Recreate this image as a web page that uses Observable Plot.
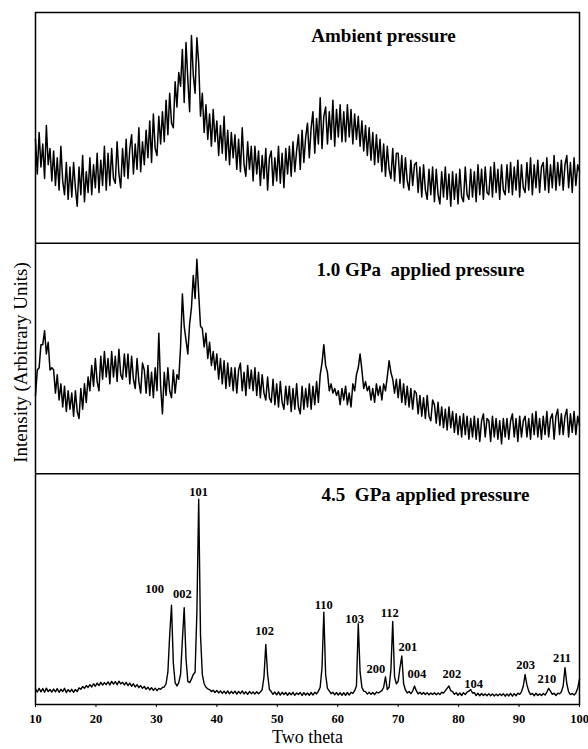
<!DOCTYPE html>
<html>
<head>
<meta charset="utf-8">
<script src="https://cdn.jsdelivr.net/npm/d3@7"></script>
<script src="https://cdn.jsdelivr.net/npm/@observablehq/plot@0.6"></script>
<style>
  html, body { margin: 0; padding: 0; background: white; }
</style>
</head>
<body>
<div id="chart"></div>
<script>
// Sampling grid of the diffractograms (two theta, degrees)
const thetaStart = 10;
const thetaStep = 0.3;

// Panel 1: ambient pressure (arbitrary units, 0-100 within panel)
const ambient = [
  45, 30, 48, 33, 43, 28, 51, 34, 41, 27,
  40, 25, 37, 23, 42, 27, 21, 35, 19, 33,
  20, 35, 24, 16, 33, 21, 38, 18, 31, 22,
  37, 21, 34, 24, 39, 22, 36, 25, 42, 23,
  39, 25, 41, 28, 26, 44, 30, 24, 41, 29,
  45, 28, 41, 47, 30, 43, 32, 50, 31, 44,
  34, 49, 37, 53, 35, 56, 41, 38, 55, 43,
  57, 44, 62, 47, 65, 52, 50, 70, 59, 74,
  68, 84, 61, 87, 71, 57, 90, 73, 65, 89,
  78, 55, 65, 48, 60, 45, 56, 42, 58, 44,
  53, 38, 51, 39, 55, 36, 49, 34, 48, 37,
  47, 32, 45, 31, 50, 34, 29, 44, 32, 42,
  27, 42, 30, 40, 25, 38, 28, 41, 23, 37,
  40, 25, 37, 27, 42, 26, 39, 24, 41, 30,
  42, 29, 44, 31, 40, 47, 32, 49, 35, 46,
  52, 37, 50, 57, 39, 54, 43, 63, 41, 55,
  59, 43, 57, 45, 62, 42, 58, 46, 60, 44,
  57, 44, 60, 46, 58, 43, 56, 45, 55, 42,
  53, 40, 51, 38, 50, 36, 48, 34, 47, 35,
  45, 31, 43, 29, 42, 32, 28, 41, 27, 39,
  39, 26, 38, 24, 37, 27, 23, 36, 25, 34,
  35, 22, 33, 20, 34, 23, 19, 32, 21, 33,
  18, 32, 21, 17, 31, 20, 33, 19, 30, 16,
  31, 19, 30, 17, 32, 20, 18, 33, 21, 19,
  32, 20, 31, 18, 34, 21, 32, 19, 33, 22,
  21, 33, 20, 35, 22, 32, 19, 34, 23, 21,
  34, 22, 35, 21, 33, 23, 36, 20, 34, 24,
  22, 35, 23, 37, 21, 34, 24, 36, 22, 33,
  35, 23, 37, 22, 34, 24, 38, 23, 35, 25,
  36, 23, 34, 38, 24, 35, 22, 37, 25, 34,
  31
];

// Panel 2: 1.0 GPa applied pressure
const gpa10 = [
  34, 45, 46, 56, 56, 62, 52, 57, 45, 46,
  45, 35, 43, 32, 39, 29, 38, 27, 36, 28,
  35, 25, 36, 27, 24, 37, 28, 39, 31, 42,
  36, 47, 38, 50, 40, 36, 51, 41, 53, 42,
  50, 39, 53, 42, 51, 40, 54, 43, 41, 52,
  42, 52, 39, 51, 41, 37, 50, 40, 35, 48,
  45, 35, 47, 34, 44, 33, 46, 36, 61, 38,
  26, 44, 34, 46, 36, 33, 45, 35, 43, 41,
  55, 78, 64, 58, 52, 65, 72, 86, 76, 93,
  78, 64, 63, 55, 61, 50, 57, 47, 53, 45,
  52, 41, 50, 39, 49, 37, 48, 38, 46, 36,
  46, 35, 45, 48, 36, 44, 34, 47, 37, 45,
  36, 46, 34, 44, 33, 43, 35, 32, 42, 33,
  31, 41, 30, 39, 29, 40, 31, 28, 38, 30,
  38, 27, 37, 28, 39, 29, 26, 38, 28, 37,
  29, 39, 28, 38, 30, 40, 31, 43, 48, 56,
  47, 44, 36, 39, 35, 37, 34, 36, 30, 37,
  32, 38, 30, 35, 29, 39, 36, 43, 46, 52,
  45, 37, 40, 36, 38, 32, 37, 31, 39, 34,
  38, 32, 39, 36, 42, 49, 44, 41, 35, 41,
  33, 41, 31, 39, 30, 38, 29, 37, 28, 36,
  35, 26, 34, 25, 33, 24, 34, 25, 23, 32,
  30, 22, 31, 21, 29, 20, 28, 19, 29, 20,
  27, 18, 26, 17, 25, 16, 26, 17, 25, 15,
  24, 16, 25, 15, 24, 14, 23, 26, 16, 24,
  23, 14, 25, 16, 24, 15, 23, 13, 24, 16,
  24, 15, 23, 26, 16, 24, 14, 25, 16, 23,
  25, 16, 24, 15, 26, 17, 27, 16, 24, 15,
  25, 17, 27, 16, 24, 26, 15, 25, 28, 17,
  26, 17, 25, 28, 16, 26, 18, 27, 17, 25,
  21
];

// Panel 3: 4.5 GPa applied pressure
const gpa45 = [
  6.8, 5.4, 7.0, 5.5, 6.9, 5.3, 7.1, 5.6, 6.5, 5.4,
  6.7, 5.5, 6.9, 5.3, 6.6, 5.6, 7.0, 5.2, 6.4, 5.5,
  6.6, 5.3, 6.5, 5.6, 7.2, 6.6, 7.8, 7.0, 8.2, 7.4,
  8.6, 7.6, 9.0, 7.9, 9.3, 8.2, 9.6, 8.4, 9.5, 8.6,
  9.8, 8.5, 10.0, 8.8, 9.9, 8.6, 10.1, 8.9, 9.7, 8.5,
  9.6, 8.2, 9.3, 7.9, 9.0, 7.6, 8.6, 7.3, 8.2, 7.0,
  7.8, 6.6, 7.5, 6.3, 7.3, 6.1, 7.1, 6.0, 7.0, 6.6,
  7.4, 7.6, 9.0, 14, 30, 43, 18, 9.5, 8.0, 9.5,
  13, 28, 42, 20, 10, 9.5, 11, 13, 14, 40,
  89, 30, 13, 9.0, 7.5, 6.8, 6.4, 5.6, 6.2, 5.2,
  6.1, 5.0, 5.9, 4.8, 5.8, 4.7, 5.9, 4.6, 5.7, 4.8,
  5.8, 4.5, 5.7, 4.7, 5.9, 4.6, 5.5, 4.4, 5.6, 4.7,
  5.4, 4.6, 5.5, 4.7, 5.4, 6.5, 12, 26, 13, 6.5,
  5.6, 4.4, 5.4, 4.2, 5.5, 4.1, 5.3, 4.3, 5.2, 4.0,
  5.1, 4.2, 5.3, 4.0, 5.0, 4.3, 5.2, 3.9, 5.1, 4.1,
  5.0, 4.0, 5.2, 4.1, 5.3, 4.6, 5.8, 7.5, 16, 40,
  13, 7.0, 5.9, 4.7, 5.3, 4.2, 5.2, 4.1, 5.1, 4.0,
  5.1, 4.0, 5.2, 4.1, 5.3, 4.8, 6.0, 8.0, 35, 14,
  7.5, 5.8, 5.6, 4.5, 5.3, 4.4, 5.2, 4.3, 5.4, 5.0,
  5.5, 6.0, 7.5, 12, 6.5, 7.5, 15, 36, 12, 9.0,
  10, 16, 21, 9.0, 6.3, 5.0, 5.6, 4.7, 5.8, 8.0,
  6.0, 4.6, 5.3, 4.4, 5.2, 4.3, 5.1, 4.2, 5.0, 4.3,
  5.1, 4.2, 5.0, 4.3, 5.3, 4.9, 6.0, 7.0, 8.0, 6.0,
  5.6, 4.4, 5.1, 4.0, 5.0, 3.9, 5.1, 4.3, 5.4, 5.8,
  6.5, 5.0, 5.1, 3.9, 4.9, 3.8, 4.8, 3.9, 4.6, 3.8,
  4.7, 3.8, 4.6, 3.7, 4.5, 3.8, 4.6, 3.9, 4.7, 3.6,
  4.6, 3.7, 4.8, 3.6, 4.7, 3.8, 4.9, 4.4, 5.5, 8.0,
  13, 8.5, 5.8, 4.3, 4.8, 3.8, 4.9, 3.9, 4.6, 3.9,
  4.8, 4.1, 5.4, 7.0, 5.8, 4.4, 4.9, 3.9, 4.9, 4.6,
  5.5, 8.0, 16, 9.0, 5.5, 4.3, 4.8, 4.1, 5.0, 7.0,
  11
];

// Reflection (hkl) labels in the 4.5 GPa panel
const hkl      = ["100", "002", "101", "102", "110", "103", "200", "112", "201", "004", "202", "104", "203", "210", "211"];
const hklTheta = [29.7, 34.3, 37.0, 47.9, 57.7, 62.8, 66.3, 68.6, 71.6, 73.1, 78.9, 82.5, 91.1, 94.6, 97.1];
const hklLevel = [50, 48, 92, 32, 43, 37, 15.6, 39.5, 25, 13.4, 13.4, 9, 17, 11, 20];

// Axis ticks and texts
const xTicks = [10, 20, 30, 40, 50, 60, 70, 80, 90, 100];
const panelTitles = ["Ambient pressure", "1.0 GPa  applied pressure", "4.5  GPa applied pressure"];
const yLabel = "Intensity (Arbitrary Units)";
const xLabel = "Two theta";

// Build the stacked table (each panel occupies 100 units of the y scale)
const series = [ambient, gpa10, gpa45];
const rows = [];
series.forEach((vals, k) => {
  const offset = 100 * (2 - k);
  vals.forEach((v, i) => rows.push({panel: k, theta: thetaStart + i * thetaStep, y: v + offset}));
});
const labels = hkl.map((h, i) => ({hkl: h, theta: hklTheta[i], y: hklLevel[i]}));

const serif = "'Liberation Serif', 'Times New Roman', serif";

const chart = Plot.plot({
  width: 588,
  height: 749,
  marginLeft: 35,
  marginRight: 9,
  marginTop: 12,
  marginBottom: 45,
  style: {fontFamily: serif, color: "black", background: "white", overflow: "visible"},
  x: {domain: [10, 100]},
  y: {domain: [0, 300], axis: null},
  marks: [
    Plot.line(rows.filter(d => d.panel < 2), {x: "theta", y: "y", z: "panel", stroke: "black", strokeWidth: 1.5}),
    Plot.line(rows.filter(d => d.panel === 2), {x: "theta", y: "y", stroke: "black", strokeWidth: 1.4}),
    Plot.frame({stroke: "black", strokeWidth: 1.5}),
    Plot.ruleY([100, 200], {stroke: "black", strokeWidth: 1.5}),
    Plot.axisX({ticks: xTicks, tickFormat: d => String(d), tickSize: 3, tickPadding: 7, fontSize: 12.5, fontWeight: "bold", label: null}),
    Plot.text(labels, {x: "theta", y: "y", text: "hkl", fontSize: 12.5, fontWeight: "bold", fill: "black"}),
    Plot.text([panelTitles[0]], {frameAnchor: "top", dx: 76, dy: 16, fontSize: 19, fontWeight: "bold", fill: "black"}),
    Plot.text([panelTitles[1]], {frameAnchor: "top", dx: 113, dy: 250, fontSize: 19, fontWeight: "bold", fill: "black"}),
    Plot.text([panelTitles[2]], {frameAnchor: "top", dx: 118, dy: 475, fontSize: 19, fontWeight: "bold", fill: "black"}),
    Plot.text([yLabel], {frameAnchor: "left", textAnchor: "middle", rotate: -90, dx: -15, dy: 4, fontSize: 19, fill: "black"}),
    Plot.text([xLabel], {frameAnchor: "bottom", dy: 38, fontSize: 18, fill: "black"})
  ]
});
document.getElementById("chart").appendChild(chart);
</script>
</body>
</html>
